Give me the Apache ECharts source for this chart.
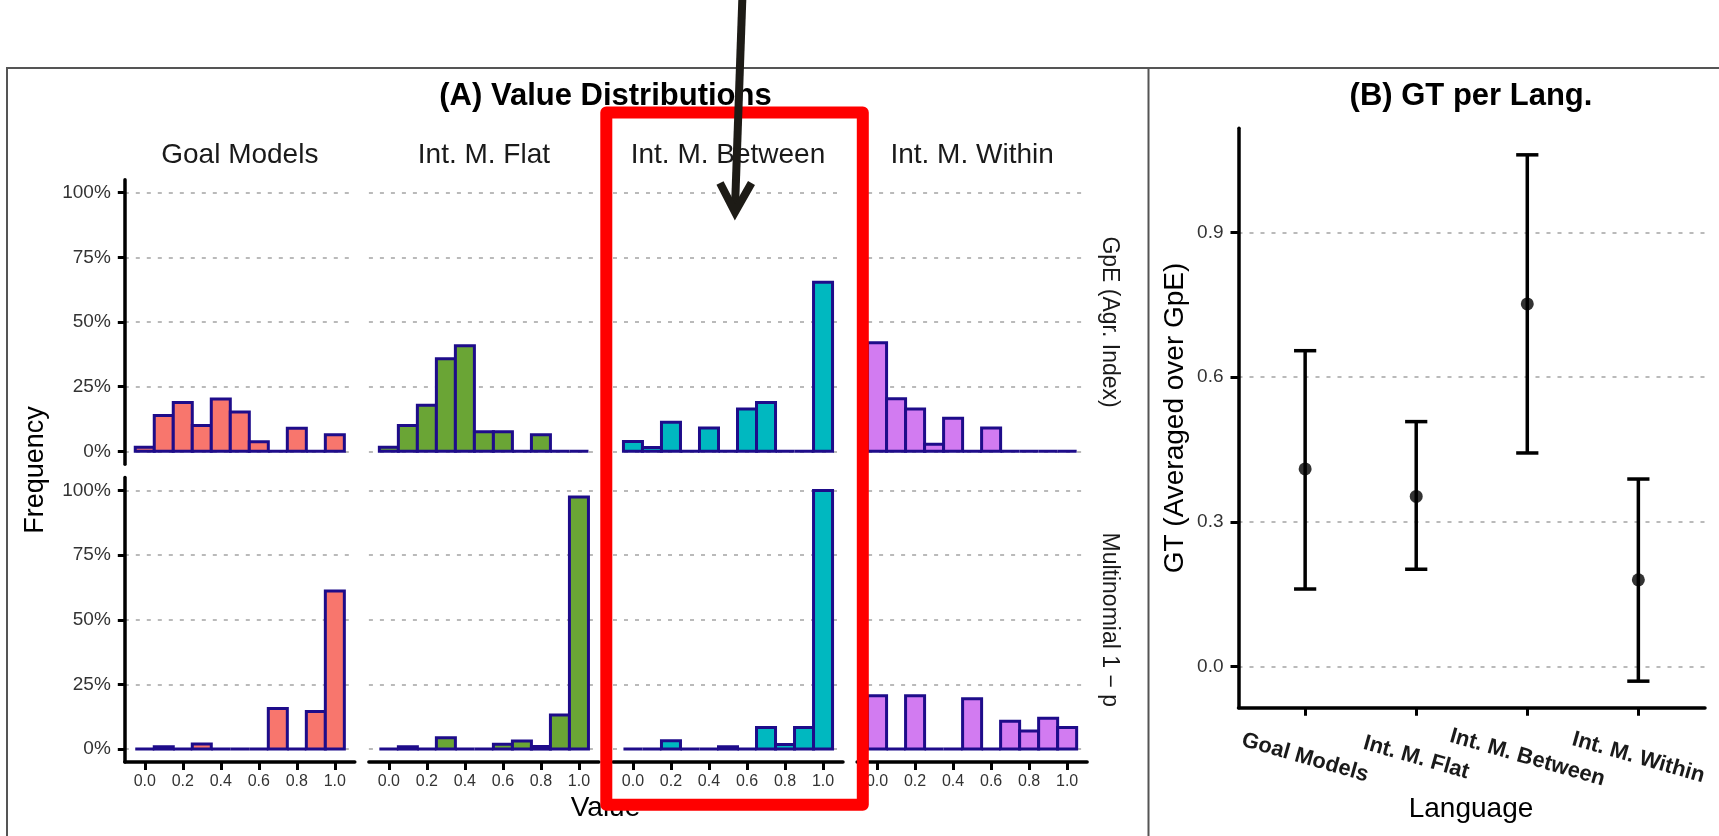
<!DOCTYPE html>
<html>
<head>
<meta charset="utf-8">
<script src="https://cdn.jsdelivr.net/npm/echarts@6/dist/echarts.min.js"></script>
<style>
  html, body { margin: 0; padding: 0; background: #ffffff; }
  #chart { width: 1719px; height: 836px; }
</style>
</head>
<body>
<div id="chart"></div>
<script>
// ---- data ----------------------------------------------------------------
const models = ['Goal Models', 'Int. M. Flat', 'Int. M. Between', 'Int. M. Within'];
const metrics = ['GpE (Agr. Index)', 'Multinomial 1 \u2212 p'];
const binCenters = [0.0, 0.1, 0.2, 0.3, 0.4, 0.5, 0.6, 0.7, 0.8, 0.9, 1.0];

// frequency (%) per bin, GpE (Agr. Index) row
const gpeGoal    = [1.6, 13.9, 18.9, 10.0, 20.2, 15.2, 3.7, 0, 8.9, 0, 6.4];
const gpeFlat    = [1.6, 10.0, 17.8, 35.8, 40.8, 7.6, 7.6, 0, 6.4, 0, 0];
const gpeBetween = [3.8, 1.5, 11.3, 0, 9.0, 0, 16.4, 18.9, 0, 0, 65.4];
const gpeWithin  = [42.0, 20.3, 16.4, 2.8, 12.8, 0, 9.0, 0, 0, 0, 0];
// frequency (%) per bin, Multinomial 1 - p row
const mnGoal    = [0, 0.9, 0, 2.0, 0, 0, 0, 15.7, 0, 14.5, 61.1];
const mnFlat    = [0, 0.9, 0, 4.4, 0, 0, 1.9, 3.1, 1.0, 13.2, 97.5];
const mnBetween = [0, 0, 3.2, 0, 0, 0.9, 0, 8.3, 1.8, 8.3, 100];
const mnWithin  = [20.6, 0, 20.6, 0, 0, 19.5, 0, 10.8, 7.0, 11.9, 8.3];

const freqTicks = [0, 25, 50, 75, 100];
const valueTicks = [0, 0.2, 0.4, 0.6, 0.8, 1.0];

// panel B: GT averaged over GpE, mean with interval
const gtMean = [0.410, 0.353, 0.752, 0.180];
const gtLow  = [0.161, 0.202, 0.443, -0.030];
const gtHigh = [0.655, 0.508, 1.061, 0.389];
const gtTicks = [0.0, 0.3, 0.6, 0.9];

// ---- styling ----------------------------------------------------------------
const FONT = '"Liberation Sans", Arial, Helvetica, sans-serif';
const fills = ['#F8766D', '#6AA535', '#00B8C0', '#D27BF1'];
const OUTLINE = '#1E0C8A';
const GRID_LINE = { color: '#BABABA', width: 2.2, type: [4, 7] };
const BIN = 0.1;
const CAP = 0.2;

const colLeft = [124.8, 368.9, 613.0, 857.1];
const panelW = 230;
const rowTop = [179.8, 477.5];
const panelH = 284.5;

const rows = [
  [gpeGoal, gpeFlat, gpeBetween, gpeWithin],
  [mnGoal, mnFlat, mnBetween, mnWithin]
];

const grids = [], xAxes = [], yAxes = [], series = [];

rows.forEach((rowData, r) => {
  rowData.forEach((vals, c) => {
    const idx = grids.length;
    grids.push({ left: colLeft[c], top: rowTop[r], width: panelW, height: panelH, containLabel: false });
    const bottomRow = r === rows.length - 1;
    xAxes.push({
      type: 'value', gridIndex: idx, min: -0.105, max: 1.105,
      axisLine: { show: bottomRow, onZero: false, lineStyle: { color: '#000', width: 3.5 } },
      axisTick: { show: bottomRow, customValues: valueTicks, length: 8, lineStyle: { color: '#000', width: 3 } },
      axisLabel: {
        show: bottomRow, customValues: valueTicks, margin: 12,
        formatter: v => Number(v).toFixed(1),
        fontFamily: FONT, fontSize: 16, color: '#333'
      },
      splitLine: { show: false }
    });
    const firstCol = c === 0;
    yAxes.push({
      type: 'value', gridIndex: idx, min: -5, max: 105,
      axisLine: { show: firstCol, onZero: false, lineStyle: { color: '#000', width: 3.5 } },
      axisTick: { show: firstCol, customValues: freqTicks, length: 7, lineStyle: { color: '#000', width: 3 } },
      axisLabel: {
        show: firstCol, customValues: freqTicks, margin: 14,
        formatter: v => v + '%',
        fontFamily: FONT, fontSize: 19, color: '#333'
      },
      splitLine: { show: true, lineStyle: GRID_LINE }
    });
    series.push({
      type: 'custom', xAxisIndex: idx, yAxisIndex: idx,
      data: binCenters.map((b, i) => [b, vals[i]]),
      encode: { x: 0, y: 1 },
      clip: false, silent: true, animation: false,
      renderItem: (params, api) => {
        const x = api.value(0), y = api.value(1);
        const a = api.coord([x - BIN / 2, y]);
        const b = api.coord([x + BIN / 2, 0]);
        return {
          type: 'rect',
          shape: { x: a[0], y: a[1], width: b[0] - a[0], height: b[1] - a[1] },
          style: { fill: fills[c], stroke: OUTLINE, lineWidth: 3 }
        };
      }
    });
  });
});

// panel B
const bIdx = grids.length;
grids.push({ left: 1238.5, top: 128.3, right: 1719 - 1705, height: 707.7 - 128.3, containLabel: false });
xAxes.push({
  type: 'value', gridIndex: bIdx, min: 0.4, max: 4.6,
  axisLine: { show: true, onZero: false, lineStyle: { color: '#000', width: 3.5 } },
  axisTick: { show: true, customValues: [1, 2, 3, 4], length: 8, lineStyle: { color: '#000', width: 3 } },
  axisLabel: {
    show: true, customValues: [1, 2, 3, 4], rotate: -16, margin: 50,
    align: 'center', verticalAlign: 'middle',
    formatter: v => models[Math.round(v) - 1],
    fontFamily: FONT, fontSize: 22, fontWeight: 'bold', color: '#1a1a1a'
  },
  splitLine: { show: false }
});
yAxes.push({
  type: 'value', gridIndex: bIdx, min: -0.085, max: 1.116,
  axisLine: { show: true, onZero: false, lineStyle: { color: '#000', width: 3.5 } },
  axisTick: { show: true, customValues: gtTicks, length: 8, lineStyle: { color: '#000', width: 3 } },
  axisLabel: {
    show: true, customValues: gtTicks, margin: 15,
    formatter: v => Number(v).toFixed(1),
    fontFamily: FONT, fontSize: 19, color: '#333'
  },
  splitLine: { show: true, lineStyle: GRID_LINE }
});
series.push({
  type: 'custom', xAxisIndex: bIdx, yAxisIndex: bIdx,
  data: models.map((m, i) => [i + 1, gtLow[i], gtHigh[i]]),
  encode: { x: 0, y: [1, 2] },
  clip: false, silent: true, animation: false,
  renderItem: (params, api) => {
    const x = api.value(0), lo = api.value(1), hi = api.value(2);
    const top = api.coord([x, hi]), bot = api.coord([x, lo]);
    const tl = api.coord([x - CAP / 2, hi]), tr = api.coord([x + CAP / 2, hi]);
    const bl = api.coord([x - CAP / 2, lo]), br = api.coord([x + CAP / 2, lo]);
    const st = { stroke: '#000', lineWidth: 3.5 };
    return {
      type: 'group',
      children: [
        { type: 'line', shape: { x1: top[0], y1: top[1], x2: bot[0], y2: bot[1] }, style: st },
        { type: 'line', shape: { x1: tl[0], y1: tl[1], x2: tr[0], y2: tr[1] }, style: st },
        { type: 'line', shape: { x1: bl[0], y1: bl[1], x2: br[0], y2: br[1] }, style: st }
      ]
    };
  }
});
series.push({
  type: 'scatter', xAxisIndex: bIdx, yAxisIndex: bIdx,
  data: models.map((m, i) => [i + 1, gtMean[i]]),
  symbol: 'circle', symbolSize: 13,
  itemStyle: { color: '#000' }, silent: true, animation: false, z: 5
});

// ---- static text & annotations ------------------------------------------------
function label(text, x, y, size, opts) {
  opts = opts || {};
  return {
    type: 'text', x: x, y: y, rotation: opts.rotation || 0, z: 50,
    style: {
      text: text, fill: opts.color || '#1a1a1a',
      font: (opts.bold ? 'bold ' : '') + size + 'px ' + FONT,
      textAlign: 'center', textVerticalAlign: 'middle'
    }
  };
}

const graphics = [
  // figure frame and panel divider
  { type: 'rect', z: 1, shape: { x: 7, y: 68, width: 1730, height: 800 },
    style: { fill: null, stroke: '#555', lineWidth: 2 } },
  { type: 'line', z: 1, shape: { x1: 1148.5, y1: 68, x2: 1148.5, y2: 840 },
    style: { stroke: '#555', lineWidth: 2 } },
  label('(A) Value Distributions', 605.5, 96, 31, { bold: true, color: '#000' }),
  label('(B) GT per Lang.', 1471, 96, 31, { bold: true, color: '#000' }),
  label('Frequency', 36, 470, 27, { rotation: Math.PI / 2, color: '#000' }),
  label('Value', 605.5, 808, 28, { color: '#000' }),
  label('GT (Averaged over GpE)', 1175, 418, 28, { rotation: Math.PI / 2, color: '#000' }),
  label('Language', 1471, 809, 28, { color: '#000' })
];
models.forEach((m, c) => graphics.push(label(m, colLeft[c] + panelW / 2, 155, 28)));
metrics.forEach((m, r) => graphics.push(label(m, 1109, rowTop[r] + panelH / 2, 23, { rotation: -Math.PI / 2 })));

// highlight box around the "Int. M. Between" column, with pointer arrow
graphics.push({
  type: 'rect', z: 90,
  shape: { x: 606.3, y: 112.5, width: 862.8 - 606.3, height: 804.7 - 112.5 },
  style: { fill: null, stroke: '#FF0000', lineWidth: 12, lineJoin: 'round' }
});
graphics.push({
  type: 'line', z: 95,
  shape: { x1: 742.5, y1: -6, x2: 735, y2: 208 },
  style: { stroke: '#1d1b16', lineWidth: 8 }
});
graphics.push({
  type: 'polyline', z: 95,
  shape: { points: [[720, 183], [735, 212], [751.5, 183]] },
  style: { stroke: '#1d1b16', lineWidth: 8, fill: null, lineJoin: 'miter' }
});

const chart = echarts.init(document.getElementById('chart'), null, { renderer: 'canvas' });
chart.setOption({
  backgroundColor: '#ffffff',
  animation: false,
  grid: grids,
  xAxis: xAxes,
  yAxis: yAxes,
  series: series,
  graphic: { elements: graphics }
});
</script>
</body>
</html>
